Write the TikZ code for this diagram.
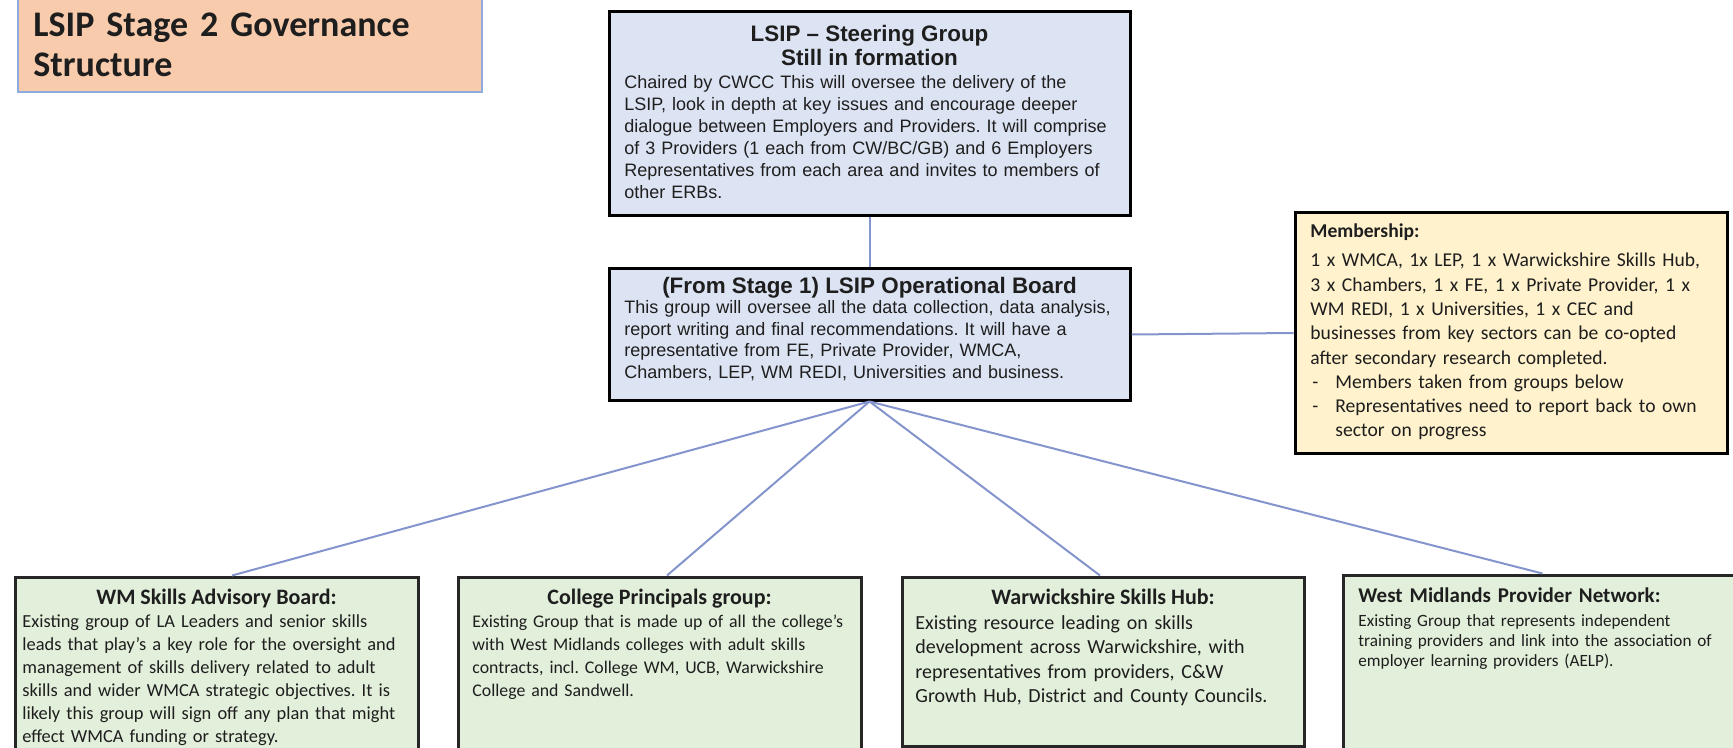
\documentclass[tikz,border=0pt]{standalone}
\usepackage{fontspec}
\setmainfont{Carlito}
\newfontfamily\arialfont{Liberation Sans}
\usetikzlibrary{positioning,fit}
\frenchspacing

\definecolor{peach}{HTML}{F8CBAD}
\definecolor{peachline}{HTML}{8FAADC}
\definecolor{steerblue}{HTML}{DCE3F2}
\definecolor{memberyellow}{HTML}{FFF2CC}
\definecolor{groupgreen}{HTML}{E2EFDA}
\definecolor{linkblue}{HTML}{8494CC}
\definecolor{inkgrey}{HTML}{1E1E1E}

\tikzset{
  panel/.style={draw=black, line width=1.5pt, inner sep=0pt},
  groupbox/.style={panel, draw=black!85, fill=groupgreen},
  link/.style={draw=linkblue, line width=1pt},
  txt/.style={inner sep=0pt, text=inkgrey, anchor=base west, align=left, text width=#1},
  head/.style={inner sep=0pt, text=inkgrey, anchor=base, align=center,
    font=\bfseries\fontsize{11}{12}\selectfont},
  arialhead/.style={head, font=\arialfont\bfseries\fontsize{11.2}{12}\selectfont},
  arialbody/.style={txt=260pt, font=\arialfont\fontsize{9}{11}\selectfont},
  groupbody/.style={txt=220pt, font=\fontsize{9.2}{11.5}\selectfont}
}

\begin{document}
\frenchspacing
\begin{tikzpicture}[x=0.5pt, y=-0.5pt]
      \useasboundingbox (0,0) rectangle (1733,748);
      \clip (0,0) rectangle (1733,748);

      \node[panel, draw=peachline, line width=1pt, fill=peach, fit={(18,-6) (482,92)}] (ttl) {};
      \node[txt=240pt, font=\bfseries\fontsize{18}{20}\selectfont] (ttltxt) at (33,37)
        {LSIP Stage 2 Governance\\Structure};

      \node[panel, fill=steerblue, fit={(609,12) (1130,216)}] (steer) {};
      \node[arialhead] (steerhead) at (869.5,66) {LSIP – Steering Group\\Still in formation};
      \node[arialbody] (steerbody) at (624,89)
        {Chaired by CWCC This will oversee the delivery of the\\
         LSIP, look in depth at key issues and encourage deeper\\
         dialogue between Employers and Providers. It will comprise\\
         of 3 Providers (1 each from CW/BC/GB) and 6 Employers\\
         Representatives from each area and invites to members of\\
         other ERBs.};

      \node[panel, fill=steerblue, fit={(609,269) (1130,400)}] (oper) {};
      \node[arialhead] (operhead) at (869.5,294) {(From Stage 1) LSIP Operational Board};
      \node[arialbody, font=\arialfont\fontsize{9}{10.7}\selectfont] (operbody) at (624,314)
        {This group will oversee all the data collection, data analysis,\\
         report writing and final recommendations. It will have a\\
         representative from FE, Private Provider, WMCA,\\
         Chambers, LEP, WM REDI, Universities and business.};

      \node[panel, fill=memberyellow, fit={(1295,213) (1727,453)}] (member) {};
      \node[txt=210pt, font=\fontsize{9.8}{12.15}\selectfont] (membertxt) at (1310,238)
        {\textbf{Membership:}\\[2.3pt]
         1 x WMCA, 1x LEP, 1 x Warwickshire Skills Hub,\\
         3 x Chambers, 1 x FE, 1 x Private Provider, 1 x\\
         WM REDI, 1 x Universities, 1 x CEC and\\
         businesses from key sectors can be co-opted\\
         after secondary research completed.\\
         \makebox[12.5pt][l]{\hspace{1pt}-}Members taken from groups below\\
         \makebox[12.5pt][l]{\hspace{1pt}-}Representatives need to report back to own\\
         \hspace*{12.5pt}sector on progress};

      \node[groupbox, fit={(15,577) (418,770)}] (wmsab) {};
      \node[head] (wmsabhead) at (216.5,604) {WM Skills Advisory Board:};
      \node[groupbody] (wmsabbody) at (22,627)
        {Existing group of LA Leaders and senior skills\\
         leads that play's a key role for the oversight and\\
         management of skills delivery related to adult\\
         skills and wider WMCA strategic objectives. It is\\
         likely this group will sign off any plan that might\\
         effect WMCA funding or strategy.};

      \node[groupbox, fit={(458,577) (861,770)}] (cpg) {};
      \node[head] (cpghead) at (659.5,604) {College Principals group:};
      \node[groupbody, font=\fontsize{8.9}{11.5}\selectfont] (cpgbody) at (472,627)
        {Existing Group that is made up of all the college's\\
         with West Midlands colleges with adult skills\\
         contracts, incl. College WM, UCB, Warwickshire\\
         College and Sandwell.};

      \node[groupbox, fit={(902,577) (1304,746)}] (wsh) {};
      \node[head] (wshhead) at (1103,604) {Warwickshire Skills Hub:};
      \node[groupbody, font=\fontsize{10}{12.25}\selectfont] (wshbody) at (915,629)
        {Existing resource leading on skills\\
         development across Warwickshire, with\\
         representatives from providers, C\&W\\
         Growth Hub, District and County Councils.};

      \node[groupbox, fit={(1343,575) (1760,770)}] (wmpn) {};
      \node[txt=200pt, font=\bfseries\fontsize{10.5}{12}\selectfont] (wmpnhead) at (1358,602)
        {West Midlands Provider Network:};
      \node[groupbody, font=\fontsize{8.6}{10}\selectfont] (wmpnbody) at (1358,626)
        {Existing Group that represents independent\\
         training providers and link into the association of\\
         employer learning providers (AELP).};

      \draw[link] (steer.south) -- (oper.north);
      \draw[link] (oper.east) -- (member.west);

      \draw[link] (oper.south) -- ([xshift=7.75pt]wmsab.north);
      \draw[link] (oper.south) -- ([xshift=3.75pt]cpg.north);
      \draw[link] (oper.south) -- ([xshift=-1.5pt]wsh.north);
      \draw[link] (oper.south) -- ([xshift=-4.5pt]wmpn.north);
\end{tikzpicture}
\end{document}
